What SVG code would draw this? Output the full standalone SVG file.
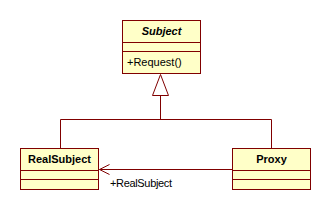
<svg xmlns="http://www.w3.org/2000/svg" width="331" height="210" viewBox="0 0 331 210">
<style>
.box{fill:#ffffc8;stroke:#800000;stroke-width:1}
.ln{fill:none;stroke:#800000;stroke-width:1}
text{font-family:"Liberation Sans",Arial,sans-serif;font-size:11px;fill:#000}
.b{font-weight:bold}
</style>
<rect width="331" height="210" fill="#ffffff"/>
<g id="connectors">
<polyline class="ln" points="60.5,148.5 60.5,119.5 271.5,119.5 271.5,148.5"/>
<line class="ln" x1="160.5" y1="119.5" x2="160.5" y2="95.5"/>
<polygon points="160.5,74.5 152.5,95.5 168.5,95.5" fill="#ffffff" stroke="#800000"/>
<line class="ln" x1="232.5" y1="169.5" x2="99.5" y2="169.5"/>
<polyline class="ln" points="109.5,164.5 99.5,169.5 109.5,174.5"/>
<text x="110" y="187" textLength="62">+RealSubject</text>
</g>
<g id="Subject">
<rect class="box" x="122.5" y="20.5" width="78" height="53"/>
<line class="ln" x1="122.5" y1="42.5" x2="200.5" y2="42.5"/>
<line class="ln" x1="122.5" y1="51.5" x2="200.5" y2="51.5"/>
<text class="b" x="161.5" y="35" text-anchor="middle" font-style="italic">Subject</text>
<text x="127" y="66">+Request()</text>
</g>
<g id="RealSubject">
<rect class="box" x="20.5" y="148.5" width="78" height="41"/>
<line class="ln" x1="20.5" y1="170.5" x2="98.5" y2="170.5"/>
<line class="ln" x1="20.5" y1="179.5" x2="98.5" y2="179.5"/>
<text class="b" x="59.5" y="163" text-anchor="middle">RealSubject</text>
</g>
<g id="Proxy">
<rect class="box" x="232.5" y="148.5" width="78" height="41"/>
<line class="ln" x1="232.5" y1="170.5" x2="310.5" y2="170.5"/>
<line class="ln" x1="232.5" y1="179.5" x2="310.5" y2="179.5"/>
<text class="b" x="271.5" y="163" text-anchor="middle">Proxy</text>
</g>
</svg>
